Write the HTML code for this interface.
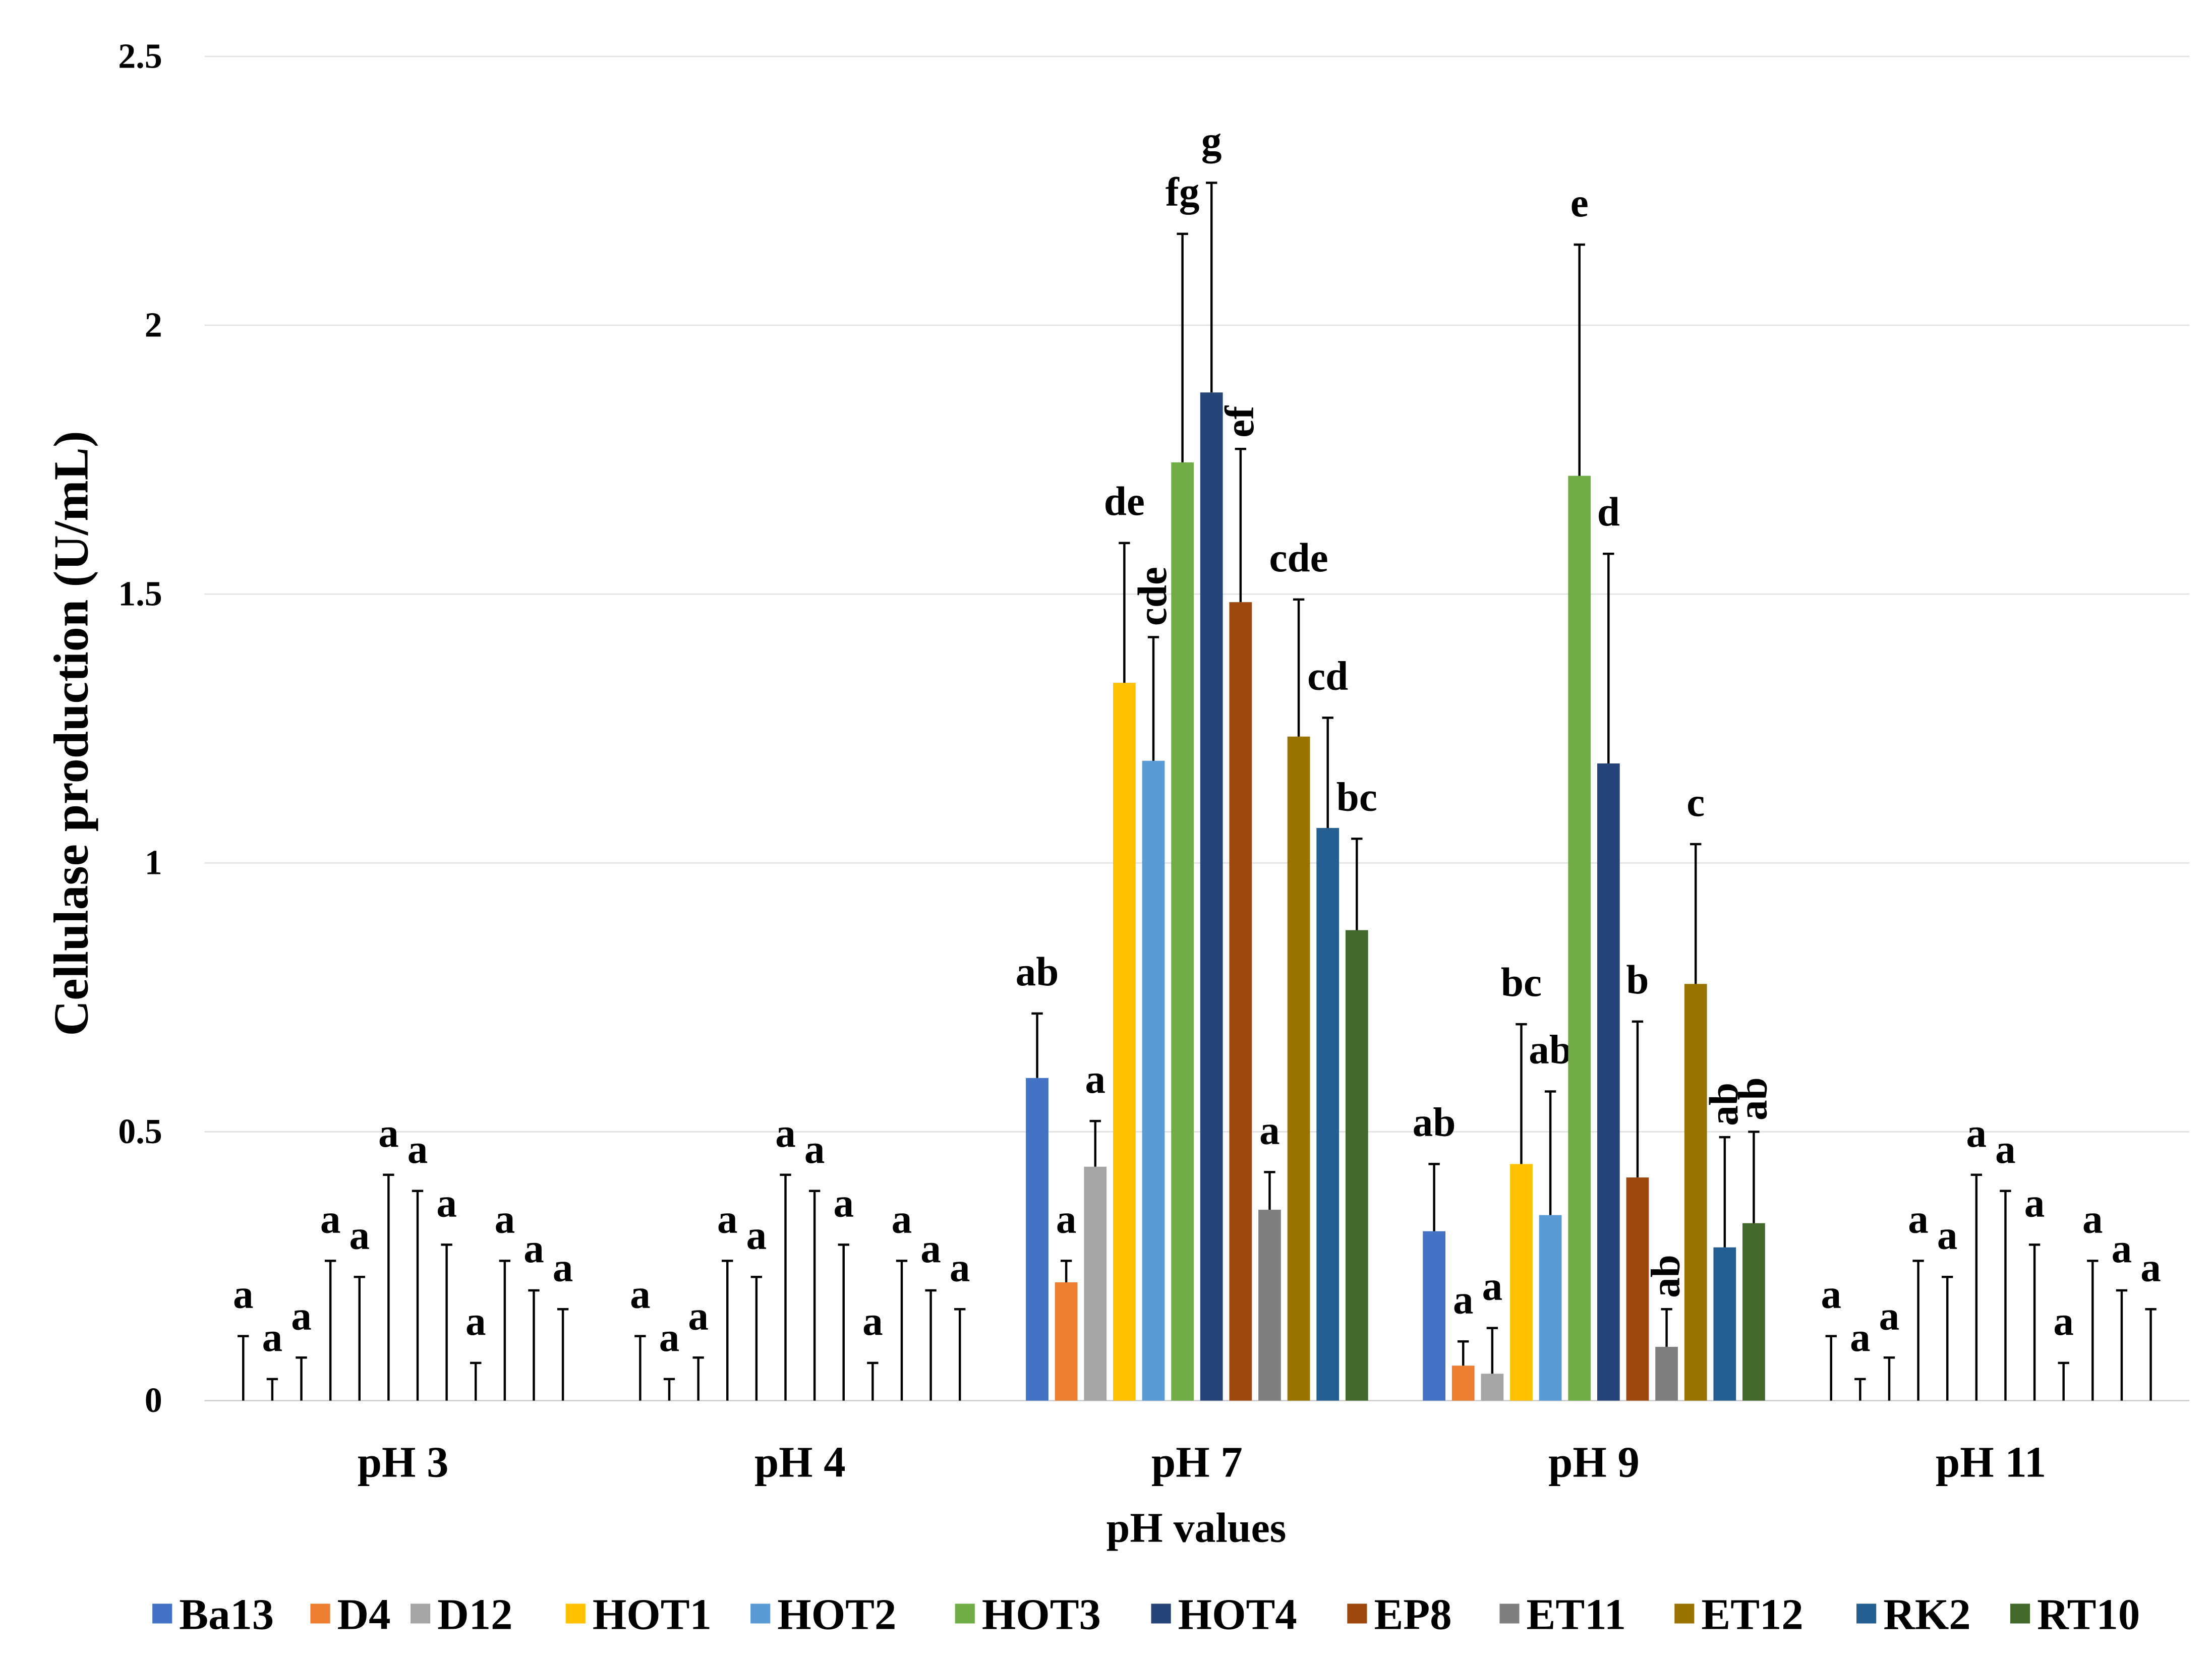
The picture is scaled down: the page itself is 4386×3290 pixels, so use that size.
<!DOCTYPE html>
<html><head><meta charset="utf-8"><style>
html,body{margin:0;padding:0;background:#fff}
svg{display:block}
text{font-family:"Liberation Serif",serif;font-weight:bold;fill:#000}
</style></head><body>
<svg id="chart" width="4386" height="3290" viewBox="0 0 1568 1176.2" xmlns="http://www.w3.org/2000/svg"></svg>
<script>
const groups=["pH 3","pH 4","pH 7","pH 9","pH 11"];
const series=["Ba13","D4","D12","HOT1","HOT2","HOT3","HOT4","EP8","ET11","ET12","RK2","RT10"];
const colors=["#4472C4","#ED7D31","#A5A5A5","#FFC000","#5B9BD5","#70AD47","#264478","#9E480E","#7F7F7F","#997300","#255E91","#43682B"];
const valsPH3=[0,0,0,0,0,0,0,0,0,0,0,0];
const errPH3=[0.12,0.04,0.08,0.26,0.23,0.42,0.39,0.29,0.07,0.26,0.205,0.17];
const lblPH3=["a","a","a","a","a","a","a","a","a","a","a","a"];
const valsPH4=[0,0,0,0,0,0,0,0,0,0,0,0];
const errPH4=[0.12,0.04,0.08,0.26,0.23,0.42,0.39,0.29,0.07,0.26,0.205,0.17];
const lblPH4=["a","a","a","a","a","a","a","a","a","a","a","a"];
const valsPH7=[0.60,0.22,0.435,1.335,1.19,1.745,1.875,1.485,0.355,1.235,1.065,0.875];
const errPH7=[0.72,0.26,0.52,1.595,1.42,2.17,2.265,1.77,0.425,1.49,1.27,1.045];
const lblPH7=["ab","a","a","de","cde","fg","g","ef","a","cde","cd","bc"];
const rotPH7=[0,0,0,0,1,0,0,1,0,0,0,0];
const valsPH9=[0.315,0.065,0.05,0.44,0.345,1.72,1.185,0.415,0.10,0.775,0.285,0.33];
const errPH9=[0.44,0.11,0.135,0.70,0.575,2.15,1.575,0.705,0.17,1.035,0.49,0.50];
const lblPH9=["ab","a","a","bc","ab","e","d","b","ab","c","ab","ab"];
const rotPH9=[0,0,0,0,0,0,0,0,1,0,1,1];
const valsPH11=[0,0,0,0,0,0,0,0,0,0,0,0];
const errPH11=[0.12,0.04,0.08,0.26,0.23,0.42,0.39,0.29,0.07,0.26,0.205,0.17];
const lblPH11=["a","a","a","a","a","a","a","a","a","a","a","a"];
const yTicks=[0,0.5,1,1.5,2,2.5];
const yTickLabels=["0","0.5","1","1.5","2","2.5"];

const values=[valsPH3,valsPH4,valsPH7,valsPH9,valsPH11];
const errs=[errPH3,errPH4,errPH7,errPH9,errPH11];
const lbls=[lblPH3,lblPH4,lblPH7,lblPH9,lblPH11];
const zeros=[0,0,0,0,0,0,0,0,0,0,0,0];
const rots=[zeros,zeros,rotPH7,rotPH9,zeros];

const svg=document.getElementById('chart');
const NS="http://www.w3.org/2000/svg";
const plotL=145,plotR=1552,y0=993,yTop=40,yMax=2.5;
const y=v=>y0-(v/yMax)*(y0-yTop);
const catW=(plotR-plotL)/groups.length;
const step=20.6,bw=16;
const x=(g,s)=>plotL+catW*g+catW/2+(s-(series.length-1)/2)*step;
function mk(tag,attrs,parent){const e=document.createElementNS(NS,tag);for(const k in attrs)e.setAttribute(k,attrs[k]);(parent||svg).appendChild(e);return e;}

yTicks.forEach((t,i)=>{
  const l=mk('line',{x1:plotL,x2:plotR,y1:y(t),y2:y(t),stroke:i===0?'#d0d0d0':'#e3e3e3','stroke-width':1});
  
  
  const tx=mk('text',{x:115,y:y(t)+8,'text-anchor':'end','font-size':25});
  tx.textContent=yTickLabels[i];
  
  
});

groups.forEach((g,gi)=>{
  series.forEach((s,si)=>{
    const cx=x(gi,si),v=values[gi][si],e=errs[gi][si];
    if(v>0){
      const r=mk('rect',{x:cx-bw/2,y:y(v),width:bw,height:y0-y(v),fill:colors[si]});
      
      
    }
    const el=mk('line',{x1:cx,x2:cx,y1:y(v),y2:y(e),stroke:'#000','stroke-width':1.6});
    
    
    const cap=mk('line',{x1:cx-4,x2:cx+4,y1:y(e),y2:y(e),stroke:'#000','stroke-width':1.6});
    
    
    let t;
    if(rots[gi][si]){
      const px=cx+9,py=y(e)-8;
      t=mk('text',{x:px,y:py,'font-size':29,transform:`rotate(-90 ${px} ${py})`});
    } else {
      t=mk('text',{x:cx,y:y(e)-20,'text-anchor':'middle','font-size':29});
    }
    t.textContent=lbls[gi][si];
    
    
  });
  const gl=mk('text',{x:plotL+catW*gi+catW/2,y:1047,'text-anchor':'middle','font-size':31});
  gl.textContent=g;
  
  
});

const xt=mk('text',{x:848,y:1093,'text-anchor':'middle','font-size':30});
xt.textContent="pH values";


const yt=mk('text',{x:62,y:520,'text-anchor':'middle','font-size':35,transform:'rotate(-90 62 520)'});
yt.textContent="Cellulase production (U/mL)";



const legX=[108,220,291,401,532,677,816,955,1063,1187,1316,1425];
series.forEach((s,i)=>{
  const gEl=mk('g',{});
  
  
  mk('rect',{x:legX[i],y:1137,width:14,height:14,fill:colors[i]},gEl);
  const t=mk('text',{x:legX[i]+19,y:1155,'font-size':31},gEl);
  t.textContent=s;
});
</script>
</body></html>
